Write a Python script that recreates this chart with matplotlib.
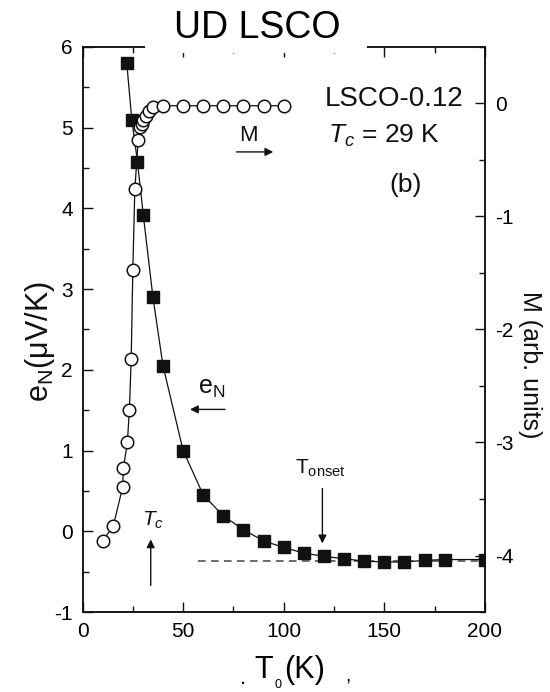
import matplotlib
matplotlib.use("Agg")
import matplotlib.pyplot as plt
from matplotlib.patches import Rectangle

plt.rcParams['font.family'] = ['Liberation Sans', 'DejaVu Sans']
plt.rcParams['mathtext.fontset'] = 'custom'
plt.rcParams['mathtext.rm'] = 'Liberation Sans'
plt.rcParams['mathtext.it'] = 'Liberation Sans:italic'

# Nernst signal e_N (filled squares, left axis)
t_en = [22, 24.5, 27.3, 30.2, 35, 40, 50, 60, 70, 80, 90, 100, 110, 120,
        130, 140, 150, 160, 170, 180, 200]
e_n = [5.8, 5.1, 4.58, 3.92, 2.9, 2.05, 1.0, 0.45, 0.19, 0.02, -0.12, -0.2,
       -0.27, -0.31, -0.34, -0.37, -0.38, -0.38, -0.36, -0.35, -0.35]

# magnetization M (open circles, right axis)
t_m = [10, 15.3, 20, 20.3, 22.3, 23.3, 24.2, 25, 26, 27.7, 28.6, 29.4, 30.2,
       31.5, 33, 35.2, 40, 50, 60, 70, 80, 90, 100]
m = [-3.87, -3.74, -3.39, -3.23, -3.0, -2.71, -2.26, -1.47, -0.76, -0.32,
     -0.21, -0.18, -0.15, -0.11, -0.07, -0.03, -0.02, -0.02, -0.02, -0.02,
     -0.02, -0.02, -0.02]

# dashed background level
t_bg = [57.6, 200]
e_bg = [-0.37, -0.37]

fig = plt.figure(figsize=(5.5, 6.92), dpi=100)
ax = fig.add_axes([0.15, 0.1156, 0.7318, 0.8165])
ax2 = ax.twinx()

ink = '#111111'
ax.plot(t_bg, e_bg, ls=(0, (5, 3.5)), color='#444444', lw=1.1, zorder=2)
ax.plot(t_en, e_n, '-', color=ink, lw=0.9, marker='s', ms=8,
        mfc=ink, mec=ink, zorder=4)
ax2.plot(t_m, m, '-', color=ink, lw=0.9, marker='o', ms=9,
         mfc='white', mec=ink, mew=1.1, zorder=3)

ax.set_xlim(0, 200)
ax.set_ylim(-1, 6)
ax2.set_ylim(-4.5, 0.5)

ax.set_xticks([0, 50, 100, 150, 200])
ax.set_xticks([25, 75, 125, 175], minor=True)
ax.set_yticks(range(-1, 7))
ax.set_yticks([-0.5, 0.5, 1.5, 2.5, 3.5, 4.5, 5.5], minor=True)
ax2.set_yticks(range(-4, 1))
ax2.set_yticks([-4.5, -3.5, -2.5, -1.5, -0.5, 0.5], minor=True)
ax2.set_yticklabels(['-4', '-3', '-2', '-1', '0'])
ax.set_yticklabels([str(v) for v in range(-1, 7)])

for a in (ax, ax2):
    for s in a.spines.values():
        s.set_linewidth(1.1)
        s.set_color(ink)
ax.tick_params(which='both', direction='in', top=True, right=False,
               labelsize=15, width=1.0, color=ink, pad=7)
ax.tick_params(which='major', length=7)
ax.tick_params(which='minor', length=4.5)
ax2.tick_params(which='both', direction='in', labelsize=15, width=1.0,
                color=ink, pad=7)
ax2.tick_params(which='major', length=7)
ax2.tick_params(which='minor', length=4.5)

# axis titles
fig.text(40 / 550, 1 - 342 / 692, 'e$_{\\rm N}$(\u03bcV/K)', fontsize=22,
         rotation=90, ha='center', va='center', color=ink)
fig.text(530 / 550, 1 - 365 / 692, 'M (arb. units)', fontsize=18,
         rotation=-90, ha='center', va='center', color=ink)

# in-plot labels
ax.text(120.5, 5.27, 'LSCO-0.12', fontsize=20, color=ink)
ax.text(122, 4.81, '$T_c$ = 29 K', fontsize=19, color=ink)
ax.text(160.7, 4.29, '(b)', fontsize=19, color=ink, ha='center', va='center')
ax.text(82.4, 4.9, 'M', fontsize=16, color=ink, ha='center', va='center')
ax.text(64, 1.77, 'e$_{\\rm N}$', fontsize=18, color=ink, ha='center', va='center')
ax.text(35.2, 0.13, '$T_c$', fontsize=15, color=ink, ha='center', va='center')
ax.text(118, 0.78, 'T$_{\\rm onset}$', fontsize=15, color=ink, ha='center', va='center')

arrow = dict(arrowstyle='-|>', lw=1.0, color=ink, mutation_scale=12,
             shrinkA=0, shrinkB=0)
ax.annotate('', xy=(94.8, 4.70), xytext=(76.6, 4.70), arrowprops=arrow)
ax.annotate('', xy=(53.4, 1.51), xytext=(70.8, 1.51), arrowprops=arrow)
ax.annotate('', xy=(33.9, -0.1), xytext=(33.9, -0.67), arrowprops=arrow)
ax.annotate('', xy=(119.2, -0.15), xytext=(119.2, 0.53), arrowprops=arrow)

# title box covering the top frame
fig.patches.append(Rectangle((145 / 550, 1 - 53 / 692), 222 / 550, 53 / 692,
                             transform=fig.transFigure, facecolor='white',
                             edgecolor='none', zorder=10))
fig.text(257 / 550, 1 - 28 / 692, 'UD LSCO', fontsize=27, color='black',
         ha='center', va='center', zorder=11)

# x axis label (clipped at the bottom in the source)
fig.text(273 / 550, 1 - 678 / 692, 'T', fontsize=22, color='black',
         ha='right', va='baseline')
fig.text(284 / 550, 1 - 678 / 692, '(K)', fontsize=22, color='black',
         ha='left', va='baseline')
fig.text(278 / 550, 1 - 691 / 692, '0', fontsize=9, color='black',
         ha='center', va='bottom')
fig.text(243 / 550, 1 - 684 / 692, '.', fontsize=16, ha='center', va='baseline')
fig.text(348 / 550, 1 - 682 / 692, ',', fontsize=14, ha='center', va='baseline')

fig.savefig('out.png', dpi=100)
